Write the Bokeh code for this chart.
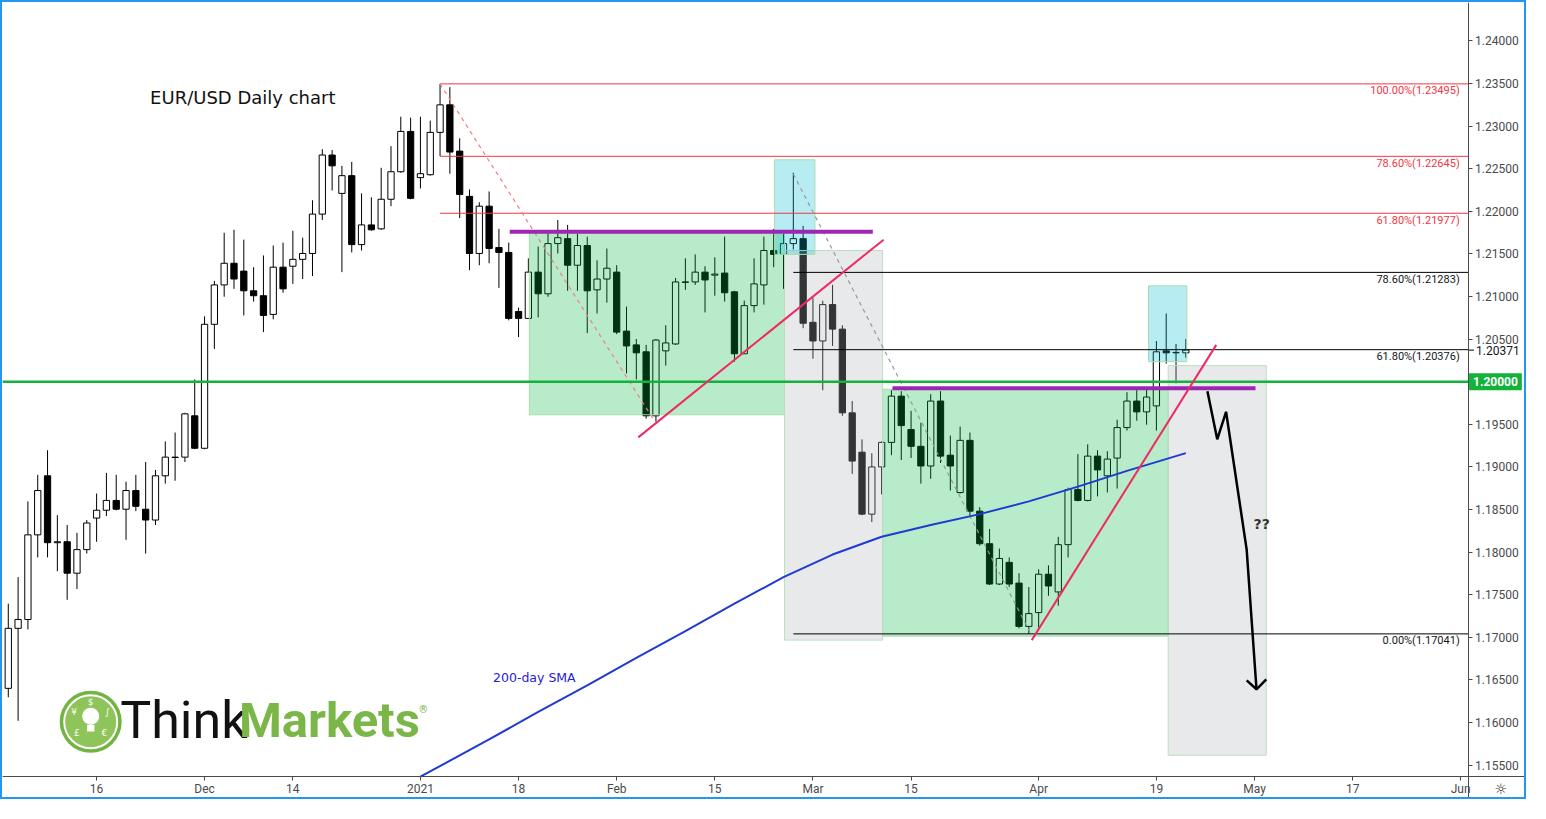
from bokeh.plotting import figure
from bokeh.models import FixedTicker, NumeralTickFormatter, Label, Range1d, ColumnDataSource
from bokeh.embed import file_html
from bokeh.resources import INLINE
from bokeh.core.properties import value

# ---------------- data ----------------
bar_index = list(range(-9, 112))
open_ = [1.16402, 1.17106, 1.17210, 1.18203, 1.18896, 1.18111, 1.18122, 1.17753, 1.18030,
         1.18400, 1.18492, 1.18607, 1.18504, 1.18723, 1.18504, 1.18377, 1.18896, 1.19115, 1.19115,
         1.19600, 1.19219, 1.20674, 1.21136, 1.21390, 1.21298, 1.21067, 1.21009, 1.20790, 1.21344,
         1.21355, 1.21436, 1.21505, 1.21967, 1.22660, 1.22210, 1.22418, 1.21609, 1.21840, 1.21794,
         1.22141, 1.22464, 1.22937, 1.22395, 1.22429, 1.22926, 1.23249, 1.22706, 1.22175, 1.21505,
         1.22060, 1.21575, 1.21517, 1.20824, 1.20743, 1.21286, 1.21032, 1.21621, 1.21679, 1.21367,
         1.21598, 1.21078, 1.21205, 1.21286, 1.20594, 1.20432, 1.20351, 1.19600, 1.20362, 1.20443,
         1.21171, 1.21171, 1.21286, 1.21251, 1.21275, 1.21055, 1.20328, 1.20893, 1.21136, 1.21540,
         1.21494, 1.21621, 1.21679, 1.20697, 1.20478, 1.20905, 1.20617, 1.19635, 1.19173, 1.18446,
         1.19000, 1.19288, 1.19831, 1.19439, 1.19242, 1.19011, 1.19773, 1.19138, 1.18700, 1.19312,
         1.18481, 1.18099, 1.17626, 1.17880, 1.17637, 1.17129, 1.17291, 1.17741, 1.17533, 1.18088,
         1.18734, 1.18607, 1.19127, 1.18896, 1.19104, 1.19462, 1.19773, 1.19646, 1.19716, 1.20362,
         1.20339, 1.20339]
high = [1.17395, 1.17707, 1.18596, 1.18907, 1.19196, 1.18434, 1.18319, 1.18226, 1.18377,
        1.18688, 1.18930, 1.18907, 1.18827, 1.18907, 1.19058, 1.18965, 1.19300, 1.19404, 1.19635,
        1.20027, 1.20767, 1.21182, 1.21748, 1.21783, 1.21667, 1.21344, 1.21482, 1.21598, 1.21632,
        1.21771, 1.21690, 1.22129, 1.22729, 1.22718, 1.22533, 1.22579, 1.22210, 1.22164, 1.22510,
        1.22764, 1.23110, 1.23099, 1.23110, 1.23064, 1.23495, 1.23457, 1.22856, 1.22256, 1.22106,
        1.22233, 1.21794, 1.21632, 1.20870, 1.21448, 1.21586, 1.21760, 1.21898, 1.21840, 1.21736,
        1.21702, 1.21425, 1.21563, 1.21367, 1.20882, 1.20501, 1.20432, 1.20501, 1.20663, 1.21217,
        1.21448, 1.21494, 1.21355, 1.21459, 1.21702, 1.21067, 1.20951, 1.21448, 1.21702, 1.21794,
        1.21736, 1.22452, 1.21829, 1.20986, 1.20951, 1.21136, 1.20663, 1.19773, 1.19323, 1.19161,
        1.19300, 1.19900, 1.19889, 1.19658, 1.19519, 1.19854, 1.19889, 1.19369, 1.19473, 1.19404,
        1.18527, 1.18272, 1.18042, 1.17938, 1.17753, 1.17591, 1.17799, 1.17845, 1.18180, 1.18757,
        1.19150, 1.19265, 1.19196, 1.19185, 1.19554, 1.19877, 1.19912, 1.19935, 1.20478, 1.20801,
        1.20443, 1.20501]
low = [1.16297, 1.16021, 1.17094, 1.17938, 1.17938, 1.17776, 1.17441, 1.17568, 1.17984,
       1.18122, 1.18423, 1.18492, 1.18145, 1.18481, 1.17984, 1.18319, 1.18804, 1.18838, 1.19058,
       1.19208, 1.19208, 1.20385, 1.20997, 1.21090, 1.20778, 1.20940, 1.20582, 1.20732, 1.21044,
       1.21148, 1.21205, 1.21240, 1.21898, 1.22244, 1.21286, 1.21517, 1.21540, 1.21771, 1.21783,
       1.22060, 1.22452, 1.22141, 1.22267, 1.22418, 1.22649, 1.22441, 1.21921, 1.21309, 1.21367,
       1.21390, 1.21101, 1.20720, 1.20524, 1.20743, 1.20755, 1.20997, 1.21505, 1.21067, 1.21067,
       1.20571, 1.20801, 1.20928, 1.20559, 1.20097, 1.20027, 1.19566, 1.19531, 1.20189, 1.20432,
       1.21078, 1.21136, 1.20813, 1.21009, 1.20940, 1.20235, 1.20328, 1.20813, 1.20905, 1.21344,
       1.21090, 1.21552, 1.20628, 1.20270, 1.19900, 1.20420, 1.19600, 1.18919, 1.18434, 1.18353,
       1.18677, 1.19138, 1.19081, 1.19104, 1.18804, 1.18861, 1.19046, 1.18723, 1.18688, 1.18411,
       1.18076, 1.17614, 1.17614, 1.17591, 1.17106, 1.17041, 1.17117, 1.17487, 1.17372, 1.17938,
       1.18596, 1.18596, 1.18654, 1.18700, 1.18746, 1.19427, 1.19542, 1.19496, 1.19427, 1.20212,
       1.19981, 1.20281]
close = [1.17106, 1.17210, 1.18203, 1.18723, 1.18111, 1.18122, 1.17753, 1.18030, 1.18342,
         1.18492, 1.18607, 1.18504, 1.18723, 1.18538, 1.18377, 1.18896, 1.19115, 1.19110, 1.19623,
         1.19219, 1.20674, 1.21136, 1.21390, 1.21205, 1.21067, 1.21009, 1.20778, 1.21344, 1.21090,
         1.21436, 1.21505, 1.21967, 1.22660, 1.22533, 1.22418, 1.21609, 1.21840, 1.21783, 1.22141,
         1.22464, 1.22937, 1.22152, 1.22441, 1.22926, 1.23249, 1.22695, 1.22198, 1.21505, 1.22060,
         1.21563, 1.21517, 1.20743, 1.20743, 1.21286, 1.21032, 1.21621, 1.21690, 1.21367, 1.21598,
         1.21067, 1.21205, 1.21332, 1.20582, 1.20420, 1.20339, 1.19600, 1.20489, 1.20455, 1.21171,
         1.21166, 1.21286, 1.21194, 1.21263, 1.21044, 1.20328, 1.20893, 1.21148, 1.21540, 1.21494,
         1.21621, 1.21679, 1.20686, 1.20478, 1.20905, 1.20617, 1.19635, 1.19069, 1.18446, 1.19000,
         1.19288, 1.19831, 1.19485, 1.19242, 1.19011, 1.19773, 1.19127, 1.19011, 1.19312, 1.18481,
         1.18099, 1.17626, 1.17926, 1.17626, 1.17129, 1.17279, 1.17741, 1.17603, 1.18088, 1.18734,
         1.18607, 1.19127, 1.18965, 1.19092, 1.19462, 1.19773, 1.19646, 1.19820, 1.20351, 1.20339,
         1.20344, 1.20371]

tick_index = [0, 11, 20, 33, 43, 53, 63, 73, 83, 96, 108, 118, 128, 139]
tick_labels = ["16", "Dec", "14", "2021", "18", "Feb", "15", "Mar", "15", "Apr", "19", "May", "17", "Jun"]
price_ticks = [1.155, 1.160, 1.165, 1.170, 1.175, 1.180, 1.185, 1.190, 1.195,
               1.200, 1.205, 1.210, 1.215, 1.220, 1.225, 1.230, 1.235, 1.240]

sma_index = [33, 40, 45, 50, 55, 60, 65, 70, 75, 80, 85, 90, 95, 100, 105, 111]
sma_value = [1.15365, 1.15802, 1.16125, 1.16437, 1.16760, 1.17072, 1.17395, 1.17707,
             1.17972, 1.18180, 1.18319, 1.18446, 1.18596, 1.18769, 1.18954, 1.19162]

fib1_levels = [1.23495, 1.22645, 1.21977]
fib1_labels = ["100.00%(1.23495)", "78.60%(1.22645)", "61.80%(1.21977)"]
fib1_start = 35
fib2_levels = [1.21283, 1.20376, 1.17041]
fib2_labels = ["78.60%(1.21283)", "61.80%(1.20376)", "0.00%(1.17041)"]
fib2_start = 71
key_level = 1.2
last_close = 1.20371

green_boxes = dict(left=[44.1, 80.1], right=[70.1, 109.2], top=[1.21748, 1.19912], bottom=[1.19612, 1.17014])
gray_boxes = dict(left=[70.1, 109.2], right=[80.1, 119.2], top=[1.21540, 1.20189], bottom=[1.16968, 1.15617])
blue_boxes = dict(left=[69.1, 107.2], right=[73.2, 111.1], top=[1.22604, 1.21125], bottom=[1.21494, 1.20235])

resistance1 = dict(x=[42.1, 79.1], y=[1.21760, 1.21760])
resistance2 = dict(x=[81.1, 118.1], y=[1.19924, 1.19924])
trend1 = dict(x=[55.2, 80.2], y=[1.19347, 1.21667])
trend2 = dict(x=[95.3, 114.1], y=[1.16968, 1.20432])
fib1_diag = dict(x=[35, 56.7], y=[1.23495, 1.19566])
fib2_diag = dict(x=[71, 95.2], y=[1.22438, 1.17041])
path_x = [113.2, 114.2, 115.1, 117.2, 118.2]
path_y = [1.19889, 1.19324, 1.19647, 1.18030, 1.16391]
head_x = [117.2, 118.2, 119.2]
head_y = [1.16495, 1.16391, 1.16506]

# plot area (x: bar index, y: price); the axes sit inside the frame like TradingView's panes
X0, X_AX, X1 = -9.59, 139.76, 145.92
Y0, Y_AX, Y1 = 1.15074, 1.15363, 1.2445

# ---------------- figure ----------------
p = figure(width=1526, height=799, output_backend="svg", toolbar_location=None,
           x_range=Range1d(X0, X1), y_range=Range1d(Y0, Y1), y_axis_location="right",
           min_border=0, background_fill_color="white", border_fill_color="white",
           styles={"border": "2px solid #2196f3"})
p.outline_line_color = None
p.xgrid.visible = False
p.ygrid.visible = False

for ax in (p.xaxis[0], p.yaxis[0]):
    ax.axis_line_color = "#4a4a4a"
    ax.major_tick_line_color = "#4a4a4a"
    ax.major_tick_out = 4
    ax.major_tick_in = 0
    ax.minor_tick_line_color = None
    ax.major_label_text_color = "#4a4a4a"
    ax.major_label_text_font = "Roboto"
    ax.major_label_text_font_size = "12px"

p.xaxis.ticker = FixedTicker(ticks=tick_index)
p.xaxis.major_label_overrides = {t: l for t, l in zip(tick_index, tick_labels)}
p.xaxis.major_label_standoff = 1
p.xaxis.fixed_location = Y_AX
p.yaxis.ticker = FixedTicker(ticks=price_ticks)
p.yaxis.formatter = NumeralTickFormatter(format="0.00000")
p.yaxis.major_label_standoff = 3
p.yaxis.fixed_location = X_AX

# candles
tops = [max(o, c) for o, c in zip(open_, close)]
bots = [min(o, c) for o, c in zip(open_, close)]
fills = ["white" if c >= o else "black" for o, c in zip(open_, close)]
src = ColumnDataSource(dict(x=bar_index, h=high, l=low, top=tops, bottom=bots, fill=fills))
p.segment(x0="x", y0="l", x1="x", y1="h", source=src, line_color="black", line_width=1)
p.vbar(x="x", width=0.64, top="top", bottom="bottom", source=src,
       fill_color="fill", line_color="black", line_width=1)

# boxes
p.quad(source=ColumnDataSource(green_boxes), left="left", right="right", top="top", bottom="bottom",
       fill_color="#00b73d", fill_alpha=0.28, line_color="#a8dcb0", line_width=1)
p.quad(source=ColumnDataSource(gray_boxes), left="left", right="right", top="top", bottom="bottom",
       fill_color="#b0b3ba", fill_alpha=0.29, line_color="#b9e0bf", line_width=1)
p.quad(source=ColumnDataSource(blue_boxes), left="left", right="right", top="top", bottom="bottom",
       fill_color="#00bcd4", fill_alpha=0.28, line_color="#a8dcb0", line_width=1)

# fib lines
p.segment(x0=[fib1_start] * 3, x1=[X_AX] * 3, y0=fib1_levels, y1=fib1_levels,
          line_color="#f23645", line_width=1)
p.segment(x0=[fib2_start] * 3, x1=[X_AX] * 3, y0=fib2_levels, y1=fib2_levels,
          line_color="black", line_width=1)
p.line(fib1_diag["x"], fib1_diag["y"], line_color="#f77c80", line_width=1.2, line_dash="4 4")
p.line(fib2_diag["x"], fib2_diag["y"], line_color="#9598a1", line_width=1.2, line_dash="4 4")

for lvl, txt in zip(fib1_levels, fib1_labels):
    p.add_layout(Label(x=X_AX - 0.85, y=lvl, text=txt, text_align="right", text_baseline="middle",
                       y_offset=-7, text_font_size="11px", text_color="#f23645", text_font="Roboto"))
for lvl, txt in zip(fib2_levels, fib2_labels):
    p.add_layout(Label(x=X_AX - 0.85, y=lvl, text=txt, text_align="right", text_baseline="middle",
                       y_offset=-7, text_font_size="11px", text_color="#131722", text_font="Roboto"))

# 1.2000 level
p.segment(x0=[X0], x1=[X_AX], y0=[key_level], y1=[key_level], line_color="#12b23b", line_width=2.5)

# SMA
p.line(sma_index, sma_value, line_color="#1f3bd1", line_width=2)

# resistance and trend lines
p.line(resistance1["x"], resistance1["y"], line_color="#9c27b0", line_width=4)
p.line(resistance2["x"], resistance2["y"], line_color="#9c27b0", line_width=4)
p.line(trend1["x"], trend1["y"], line_color="#ef2a63", line_width=2)
p.line(trend2["x"], trend2["y"], line_color="#ef2a63", line_width=2)

# projected path arrow
p.line(path_x, path_y, line_color="black", line_width=2.5)
p.line(head_x, head_y, line_color="black", line_width=2.5)
p.add_layout(Label(x=117.9, y=1.18330, text="??", text_align="left", text_baseline="middle",
                   text_font_size="14px", text_font_style="bold", text_color="#333333", text_font="DejaVu Sans"))

# texts
p.add_layout(Label(x=5.45, y=1.23330, text="EUR/USD Daily chart", text_align="left", text_baseline="middle",
                   text_font_size="18px", text_color="#111111", text_font="DejaVu Sans"))
p.add_layout(Label(x=40.4, y=1.16529, text="200-day SMA", text_align="left", text_baseline="middle",
                   text_font_size="12.5px", text_color="#1f22d6", text_font="DejaVu Sans"))

# price-scale labels
p.segment(x0=[X_AX], x1=[X_AX + 0.6], y0=[last_close], y1=[last_close], line_color="black", line_width=1)
p.add_layout(Label(x=X_AX, y=last_close, x_offset=7, text=f"{last_close:.5f}", text_align="left",
                   text_baseline="middle", text_font_size="12px", text_color="#131722", text_font="Roboto",
                   background_fill_color="white", padding=1))
p.add_layout(Label(x=X_AX, y=key_level, x_offset=1, text=f"{key_level:.5f}", text_align="left",
                   text_baseline="middle", text_font_size="12px", text_font_style="bold", text_color="white",
                   text_font="Roboto", background_fill_color="#12b23b", padding=4))
p.add_layout(Label(x=143.1, y=1.15225, text="\u263c", text_align="center", text_baseline="middle",
                   text_font_size="14px", text_color="#222222", text_font="DejaVu Sans"))

# ThinkMarkets logo
lx, ly = -0.6, 1.16010
p.scatter([lx], [ly], size=62, fill_color="#71b43f", line_color=None)
p.scatter([lx], [ly], size=53, fill_color="#8fc45a", line_color="white", line_width=2)
p.scatter([lx], [1.16075], size=17, fill_color="white", line_color=None)
p.rect([lx], [1.15935], width=0.75, height=0.0008, fill_color="white", line_color=None)
p.text(x=[lx, -2.3, 1.1, -2.0, 0.8], y=[1.16240, 1.16125, 1.16125, 1.15882, 1.15882],
       text=["$", "¥", "∫", "£", "€"], text_align="center", text_baseline="middle",
       text_font_size="9px", text_color="white", text_font=value("DejaVu Sans"))
p.text(x=[2.4], y=[ly + 0.0002], text=["Think"], text_align="left", text_baseline="middle",
       text_font_size="52px", text_color="#111111", text_font=value("Roboto"))
p.text(x=[14.5], y=[ly + 0.0002], text=["Markets"], text_align="left", text_baseline="middle",
       text_font_size="49px", text_font_style="bold", text_color="#7ab648", text_font=value("Roboto"))
p.text(x=[33.3], y=[1.16150], text=["®"], text_align="center", text_baseline="middle",
       text_font_size="10px", text_color="#7ab648", text_font=value("DejaVu Sans"))

open("out.html", "w").write(file_html(p, INLINE))
